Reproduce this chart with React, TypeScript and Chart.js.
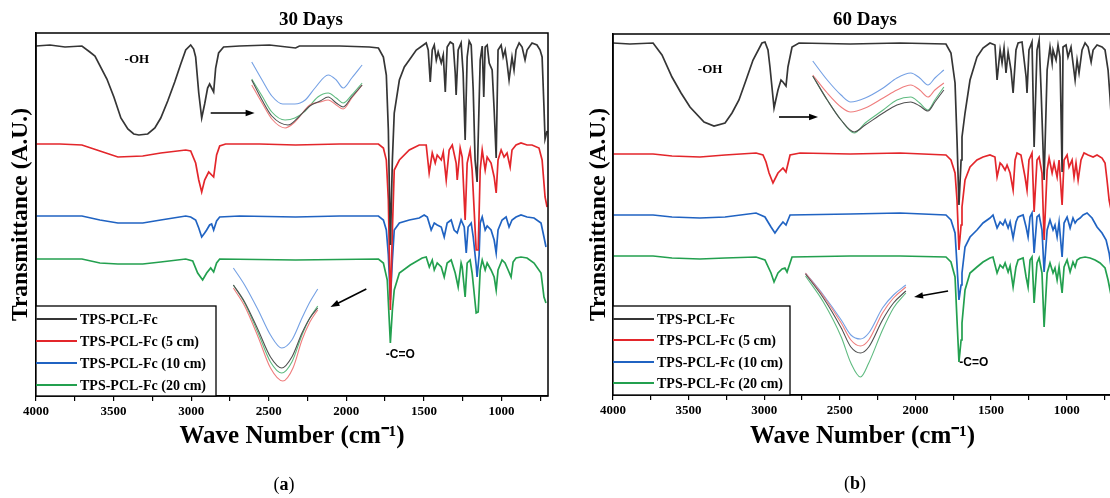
import React, { useEffect, useRef } from 'react';
import { Chart, registerables } from 'chart.js';

Chart.register(...registerables);

type Pair = [number, number];

const SERIES_LABELS = ['TPS-PCL-Fc', 'TPS-PCL-Fc (5 cm)', 'TPS-PCL-Fc (10 cm)', 'TPS-PCL-Fc (20 cm)'];
const LINE_COLORS = ['#353535', '#e3262b', '#2063c2', '#23a04f'];
const INSET_COLORS = ['#505050', '#ef7d7d', '#74a0e4', '#5fbb80'];

const X_TICK_VALUES = [4000, 3750, 3500, 3250, 3000, 2750, 2500, 2250, 2000, 1750, 1500, 1250, 1000, 750];
const X_TICK_LABELED = [4000, 3500, 3000, 2500, 2000, 1500, 1000];
const X_MIN = 700;
const X_MAX = 4000;

// ---------- 30 days (wavenumber, transmittance A.U.) ----------
const D30_TPS: Pair[] = [
  [4000, 350], [3910, 351], [3813, 349], [3704, 350], [3653, 344], [3620, 340], [3543, 317], [3498, 299], [3453, 278], [3408, 267], [3370, 262], [3337, 261], [3280, 262], [3234, 268], [3196, 278], [3151, 295], [3106, 314], [3067, 332], [3035, 346], [3003, 351], [2984, 347], [2971, 339], [2951, 303], [2932, 278], [2913, 292], [2894, 308], [2881, 312], [2868, 308], [2855, 304], [2842, 328], [2823, 343], [2791, 349], [2688, 350], [2495, 351], [2327, 348], [2302, 350], [2044, 350], [1851, 349], [1793, 348], [1761, 339], [1742, 321], [1729, 266], [1716, 151], [1703, 236], [1691, 283], [1658, 316], [1626, 329], [1594, 336], [1549, 346], [1485, 353],
  [1472, 346], [1459, 314], [1446, 346], [1433, 351], [1420, 336], [1408, 344], [1388, 333], [1375, 341], [1362, 304], [1350, 349], [1330, 354], [1311, 352], [1298, 323], [1292, 301], [1279, 346], [1260, 353], [1247, 323], [1234, 256], [1221, 339], [1208, 355], [1195, 351], [1182, 306], [1170, 236], [1157, 214], [1137, 336], [1124, 350], [1114, 299], [1105, 349], [1092, 351], [1079, 333], [1060, 326], [1047, 286], [1034, 238], [1022, 346], [1002, 351], [989, 339], [976, 346], [964, 333], [951, 316], [932, 339], [919, 326], [906, 346], [886, 353], [867, 349], [848, 336], [835, 346], [803, 353], [771, 351], [751, 346], [738, 339], [726, 289], [719, 257], [706, 265],
];
const D30_5CM: Pair[] = [
  [4000, 252], [3846, 252], [3704, 251], [3588, 245], [3472, 239], [3312, 240], [3196, 243], [3035, 246], [3003, 245], [2971, 233], [2951, 216], [2932, 204], [2913, 216], [2887, 224], [2855, 219], [2836, 241], [2816, 250], [2778, 252], [2559, 252], [2327, 251], [2044, 252], [1793, 252], [1761, 248], [1742, 236], [1729, 196], [1716, 86], [1703, 166], [1691, 226], [1658, 236], [1594, 246], [1530, 251], [1485, 251],
  [1466, 223], [1446, 243], [1427, 233], [1414, 241], [1388, 236], [1375, 244], [1356, 216], [1337, 246], [1317, 251], [1292, 233], [1285, 216], [1266, 248], [1253, 239], [1234, 176], [1221, 233], [1202, 246], [1189, 226], [1163, 146], [1150, 146], [1137, 226], [1124, 246], [1105, 226], [1092, 239], [1067, 233], [1047, 219], [1034, 203], [1022, 236], [1002, 246], [983, 239], [964, 243], [944, 229], [932, 246], [906, 251], [874, 253], [835, 251], [803, 251], [758, 248], [738, 236], [719, 199], [706, 189],
];
const D30_10CM: Pair[] = [
  [4000, 180], [3846, 180], [3704, 180], [3588, 176], [3472, 173], [3312, 173], [3196, 176], [3035, 180], [3003, 179], [2971, 176], [2951, 168], [2932, 159], [2913, 163], [2900, 166], [2881, 171], [2868, 172], [2855, 166], [2836, 175], [2816, 179], [2688, 180], [2327, 179], [2044, 180], [1793, 180], [1761, 176], [1742, 166], [1729, 141], [1716, 96], [1703, 136], [1691, 166], [1658, 173], [1594, 176], [1530, 178],
  [1498, 181], [1478, 179], [1453, 166], [1433, 173], [1414, 171], [1388, 169], [1369, 159], [1350, 173], [1324, 176], [1305, 166], [1285, 163], [1260, 176], [1240, 169], [1227, 143], [1215, 169], [1195, 173], [1182, 159], [1163, 131], [1157, 119], [1144, 141], [1137, 173], [1124, 179], [1105, 166], [1092, 170], [1067, 166], [1047, 156], [1034, 143], [1022, 166], [996, 176], [970, 179], [951, 169], [932, 176], [906, 179], [874, 181], [835, 179], [790, 178], [745, 173], [726, 159], [713, 149],
];
const D30_20CM: Pair[] = [
  [4000, 137], [3846, 137], [3704, 137], [3588, 133], [3472, 132], [3312, 132], [3196, 134], [3035, 137], [2990, 135], [2958, 123], [2926, 116], [2900, 123], [2874, 128], [2855, 124], [2836, 133], [2816, 137], [2327, 136], [1793, 137], [1761, 133], [1736, 116], [1716, 53], [1703, 86], [1691, 106], [1658, 123], [1588, 131], [1511, 138], [1485, 139],
  [1465, 129], [1446, 136], [1433, 126], [1414, 133], [1388, 129], [1369, 119], [1350, 133], [1324, 136], [1298, 123], [1279, 109], [1260, 133], [1253, 129], [1234, 99], [1221, 133], [1202, 136], [1189, 123], [1163, 83], [1150, 84], [1137, 126], [1124, 136], [1105, 126], [1092, 133], [1067, 126], [1047, 119], [1034, 106], [1022, 126], [996, 136], [977, 133], [957, 126], [938, 119], [925, 134], [906, 138], [874, 139], [835, 138], [790, 133], [745, 123], [726, 99], [713, 93],
];

// ---------- 60 days ----------
const D60_TPS: Pair[] = [
  [4000, 352], [3888, 351], [3735, 352], [3676, 340], [3610, 318], [3550, 302], [3491, 288], [3398, 273], [3332, 269], [3259, 272], [3213, 282], [3167, 295], [3120, 315], [3074, 335], [3015, 352], [2995, 353], [2975, 345], [2962, 328], [2935, 287], [2909, 305], [2889, 315], [2876, 313], [2856, 309], [2843, 328], [2816, 348], [2770, 352], [2432, 351], [2102, 352], [1798, 351], [1765, 342], [1738, 312], [1725, 255], [1712, 190], [1698, 235], [1692, 258], [1672, 282], [1639, 315], [1593, 338], [1553, 347], [1507, 352],
  [1474, 350], [1460, 315], [1440, 345], [1427, 332], [1414, 347], [1401, 322], [1387, 343], [1368, 325], [1354, 302], [1335, 345], [1321, 352], [1295, 353], [1268, 318], [1262, 302], [1249, 345], [1229, 353], [1215, 248], [1196, 345], [1182, 355], [1169, 305], [1149, 215], [1129, 325], [1110, 348], [1096, 332], [1090, 345], [1070, 335], [1057, 350], [1044, 338], [1030, 223], [1024, 348], [1004, 350], [991, 338], [971, 348], [958, 332], [944, 315], [931, 335], [918, 322], [898, 345], [878, 352], [858, 348], [838, 333], [825, 345], [799, 350], [766, 348], [746, 345], [726, 325], [713, 298], [700, 265],
];
const D60_5CM: Pair[] = [
  [4000, 241], [3735, 241], [3610, 239], [3425, 238], [3259, 240], [3054, 242], [3008, 240], [2988, 233], [2968, 222], [2942, 212], [2909, 222], [2876, 227], [2856, 223], [2829, 240], [2763, 242], [2432, 241], [2102, 242], [1798, 240], [1765, 235], [1738, 222], [1725, 195], [1712, 145], [1698, 170], [1692, 188], [1672, 215], [1639, 228], [1593, 235], [1553, 238], [1507, 240],
  [1474, 238], [1460, 218], [1440, 232], [1427, 230], [1407, 225], [1394, 230], [1374, 222], [1354, 205], [1341, 235], [1328, 242], [1302, 240], [1275, 218], [1262, 205], [1249, 235], [1229, 242], [1215, 183], [1196, 235], [1182, 238], [1163, 222], [1149, 155], [1129, 225], [1116, 237], [1096, 222], [1083, 232], [1063, 218], [1050, 235], [1030, 190], [1017, 235], [997, 240], [984, 228], [964, 235], [951, 218], [938, 232], [924, 215], [905, 235], [885, 242], [858, 240], [825, 238], [799, 240], [766, 237], [746, 232], [733, 215], [719, 195], [706, 185],
];
const D60_10CM: Pair[] = [
  [4000, 180], [3735, 180], [3610, 178], [3425, 177], [3259, 178], [3054, 182], [2995, 178], [2955, 168], [2929, 162], [2902, 168], [2876, 173], [2856, 170], [2829, 180], [2432, 181], [2102, 182], [1798, 180], [1765, 175], [1738, 162], [1725, 130], [1712, 95], [1698, 110], [1692, 122], [1672, 148], [1639, 158], [1593, 165], [1553, 172], [1507, 177], [1487, 180],
  [1460, 167], [1440, 173], [1421, 170], [1407, 175], [1387, 167], [1374, 173], [1354, 157], [1335, 173], [1321, 178], [1288, 180], [1268, 168], [1255, 158], [1242, 178], [1229, 182], [1215, 142], [1196, 178], [1182, 180], [1163, 165], [1149, 123], [1129, 165], [1110, 175], [1090, 165], [1077, 170], [1063, 158], [1050, 173], [1030, 138], [1017, 172], [997, 178], [977, 167], [958, 177], [944, 172], [931, 175], [911, 177], [891, 180], [865, 182], [832, 177], [799, 168], [766, 162], [739, 155], [719, 142], [706, 128],
];
const D60_20CM: Pair[] = [
  [4000, 139], [3735, 139], [3610, 137], [3425, 136], [3259, 137], [3054, 138], [2995, 135], [2955, 122], [2935, 113], [2909, 122], [2882, 126], [2863, 127], [2849, 123], [2816, 138], [2432, 139], [2102, 139], [1798, 138], [1765, 133], [1738, 118], [1725, 75], [1712, 33], [1698, 55], [1692, 72], [1672, 105], [1639, 122], [1593, 128], [1553, 133], [1507, 137], [1487, 138],
  [1460, 122], [1440, 130], [1421, 127], [1407, 132], [1387, 123], [1374, 129], [1354, 108], [1335, 128], [1321, 135], [1288, 137], [1268, 118], [1255, 108], [1242, 135], [1229, 138], [1215, 92], [1196, 132], [1182, 137], [1163, 122], [1149, 68], [1129, 122], [1110, 132], [1090, 122], [1077, 127], [1063, 115], [1050, 128], [1030, 102], [1017, 128], [997, 135], [977, 123], [958, 133], [944, 128], [931, 135], [911, 137], [878, 138], [845, 137], [812, 135], [779, 132], [746, 127], [726, 115], [713, 105], [700, 95],
];

// ---------- insets (zoomed regions) ----------
const D30_CH_TPS: Pair[] = [[3017, 55], [2999, 35], [2982, 19], [2954, 10], [2937, 17], [2916, 29], [2898, 34], [2884, 38], [2870, 32], [2858, 28], [2843, 38], [2825, 50]];
const D30_CH_5CM: Pair[] = [[3017, 50], [2999, 32], [2982, 16], [2959, 7], [2942, 13], [2916, 30], [2898, 33], [2884, 35], [2870, 30], [2858, 26], [2843, 37], [2825, 50]];
const D30_CH_10CM: Pair[] = [[3017, 73], [2999, 55], [2982, 39], [2963, 31], [2942, 31], [2924, 35], [2907, 47], [2884, 60], [2870, 55], [2858, 47], [2843, 57], [2825, 70]];
const D30_CH_20CM: Pair[] = [[3017, 56], [2999, 39], [2982, 23], [2959, 15], [2942, 17], [2924, 24], [2902, 38], [2884, 42], [2870, 37], [2858, 32], [2843, 40], [2825, 52]];

const D30_CO_TPS: Pair[] = [[1757, 100], [1747, 83], [1735, 55], [1724, 28], [1714, 17], [1705, 28], [1696, 52], [1689, 67], [1682, 77]];
const D30_CO_5CM: Pair[] = [[1757, 97], [1747, 79], [1735, 48], [1724, 17], [1713, 4], [1704, 17], [1696, 45], [1689, 63], [1682, 75]];
const D30_CO_10CM: Pair[] = [[1757, 117], [1747, 100], [1735, 75], [1724, 50], [1714, 37], [1705, 45], [1696, 67], [1689, 83], [1682, 96]];
const D30_CO_20CM: Pair[] = [[1757, 100], [1747, 82], [1735, 52], [1724, 23], [1714, 12], [1705, 23], [1696, 50], [1689, 67], [1682, 79]];

const D60_CH_TPS: Pair[] = [[3016, 64], [2995, 40], [2975, 20], [2956, 8], [2940, 15], [2914, 27], [2894, 35], [2874, 38], [2861, 34], [2849, 29], [2839, 38], [2826, 50]];
const D60_CH_5CM: Pair[] = [[3016, 65], [2995, 47], [2975, 33], [2961, 28], [2940, 32], [2914, 42], [2894, 50], [2874, 55], [2861, 50], [2849, 43], [2839, 50], [2826, 57]];
const D60_CH_10CM: Pair[] = [[3016, 79], [2995, 60], [2975, 45], [2961, 38], [2940, 42], [2914, 52], [2894, 62], [2874, 67], [2861, 62], [2849, 55], [2839, 62], [2826, 70]];
const D60_CH_20CM: Pair[] = [[3016, 64], [2995, 40], [2975, 20], [2956, 7], [2940, 17], [2914, 30], [2894, 40], [2874, 43], [2861, 37], [2849, 30], [2839, 40], [2826, 53]];

const D60_CO_TPS: Pair[] = [[1756, 111], [1743, 87], [1730, 57], [1723, 38], [1716, 32], [1710, 38], [1700, 65], [1692, 82], [1683, 94]];
const D60_CO_5CM: Pair[] = [[1756, 112], [1743, 89], [1730, 62], [1723, 45], [1716, 39], [1710, 45], [1700, 72], [1692, 87], [1683, 98]];
const D60_CO_10CM: Pair[] = [[1756, 112], [1743, 90], [1730, 65], [1723, 50], [1716, 46], [1710, 52], [1700, 77], [1692, 90], [1683, 100]];
const D60_CO_20CM: Pair[] = [[1756, 109], [1743, 83], [1730, 48], [1723, 22], [1716, 8], [1710, 22], [1700, 55], [1692, 77], [1683, 92]];

const SERIF = "'Liberation Serif', 'Times New Roman', serif";
const SANS = "'Liberation Sans', Arial, sans-serif";
const PAGE_W = 1110;
const PAGE_H = 498;

interface Arrow { from: Pair; to: Pair }
interface PanelCfg {
  key: string;
  canvasLeft: number;
  width: number;
  top: number;
  left: number;
  padRight: number;
  xAxisHeight: number;
  yMax: number;
  yTitlePad: number;
  title: string;
  titleX: number;
  titleY: number;
  sub: string;
  subX: number;
  subY: number;
  series: Pair[][];
  ohAt: Pair;
  coAt: Pair;
  arrows: Arrow[];
  legendTop: number;
  legendWidth: number;
  legendRows: number[];
}
interface InsetCfg {
  key: string;
  left: number;
  top: number;
  width: number;
  height: number;
  xRange: Pair;
  yMax: number;
  series: Pair[][];
}

const PANELS: PanelCfg[] = [
  {
    key: 'a', canvasLeft: 0, width: 560, top: 33, left: 36, padRight: 12, xAxisHeight: 102, yMax: 363, yTitlePad: 7,
    title: '30 Days', titleX: 311, titleY: 20, sub: 'a', subX: 284, subY: 485,
    series: [D30_TPS, D30_5CM, D30_10CM, D30_20CM],
    ohAt: [3350, 336], coAt: [1745, 41],
    arrows: [{ from: [2874, 283], to: [2591, 283] }, { from: [1871, 107], to: [2102, 89] }],
    legendTop: 306, legendWidth: 180, legendRows: [319, 341, 363, 385],
  },
  {
    key: 'b', canvasLeft: 560, width: 560, top: 34, left: 53, padRight: 8, xAxisHeight: 103, yMax: 361, yTitlePad: 25,
    title: '60 Days', titleX: 305, titleY: 20, sub: 'b', subX: 295, subY: 484,
    series: [D60_TPS, D60_5CM, D60_10CM, D60_20CM],
    ohAt: [3358, 325], coAt: [1710, 32],
    arrows: [{ from: [2902, 278], to: [2644, 278] }, { from: [1784, 104], to: [2009, 98] }],
    legendTop: 306, legendWidth: 177, legendRows: [319, 340, 362, 383],
  },
];

const INSETS: InsetCfg[] = [
  { key: 'a1', left: 250, top: 55, width: 115, height: 80, xRange: [2820, 3020], yMax: 80, series: [D30_CH_TPS, D30_CH_5CM, D30_CH_10CM, D30_CH_20CM] },
  { key: 'a2', left: 230, top: 262, width: 90, height: 123, xRange: [1680, 1760], yMax: 123, series: [D30_CO_TPS, D30_CO_5CM, D30_CO_10CM, D30_CO_20CM] },
  { key: 'b1', left: 810, top: 55, width: 138, height: 85, xRange: [2820, 3020], yMax: 85, series: [D60_CH_TPS, D60_CH_5CM, D60_CH_10CM, D60_CH_20CM] },
  { key: 'b2', left: 800, top: 265, width: 110, height: 120, xRange: [1680, 1760], yMax: 120, series: [D60_CO_TPS, D60_CO_5CM, D60_CO_10CM, D60_CO_20CM] },
];

function toPoints(arr: Pair[]) {
  return arr.map(([x, y]) => ({ x, y }));
}

function drawArrow(ctx: CanvasRenderingContext2D, x1: number, y1: number, x2: number, y2: number) {
  const ang = Math.atan2(y2 - y1, x2 - x1);
  const head = 9;
  const half = 3.2;
  ctx.strokeStyle = '#000';
  ctx.fillStyle = '#000';
  ctx.lineWidth = 1.6;
  ctx.beginPath();
  ctx.moveTo(x1, y1);
  ctx.lineTo(x2 - Math.cos(ang) * head * 0.8, y2 - Math.sin(ang) * head * 0.8);
  ctx.stroke();
  ctx.beginPath();
  ctx.moveTo(x2, y2);
  ctx.lineTo(x2 - Math.cos(ang) * head + Math.sin(ang) * half, y2 - Math.sin(ang) * head - Math.cos(ang) * half);
  ctx.lineTo(x2 - Math.cos(ang) * head - Math.sin(ang) * half, y2 - Math.sin(ang) * head + Math.cos(ang) * half);
  ctx.closePath();
  ctx.fill();
}

function makeDecor(cfg: PanelCfg) {
  return {
    id: 'decor_' + cfg.key,
    afterDraw(chart: any) {
      const { ctx, chartArea: a, scales } = chart;
      const xs = scales.x;
      const ys = scales.y;
      ctx.save();
      // frame
      ctx.strokeStyle = '#000';
      ctx.lineWidth = 1.5;
      ctx.strokeRect(a.left, a.top, a.right - a.left, a.bottom - a.top);

      // title
      ctx.fillStyle = '#000';
      ctx.textAlign = 'center';
      ctx.textBaseline = 'middle';
      ctx.font = `bold 19px ${SERIF}`;
      ctx.fillText(cfg.title, cfg.titleX, cfg.titleY);

      // sub-figure label "(a)"
      ctx.font = `18px ${SERIF}`;
      const wP = ctx.measureText('(').width;
      const wQ = ctx.measureText(')').width;
      ctx.font = `bold 18px ${SERIF}`;
      const wA = ctx.measureText(cfg.sub).width;
      const total = wP + wA + wQ;
      let sx = cfg.subX - total / 2;
      ctx.textAlign = 'left';
      ctx.font = `18px ${SERIF}`;
      ctx.fillText('(', sx, cfg.subY);
      sx += wP;
      ctx.font = `bold 18px ${SERIF}`;
      ctx.fillText(cfg.sub, sx, cfg.subY);
      sx += wA;
      ctx.font = `18px ${SERIF}`;
      ctx.fillText(')', sx, cfg.subY);

      // peak annotations
      ctx.textAlign = 'center';
      ctx.font = `bold 13px ${SERIF}`;
      ctx.fillText('-OH', xs.getPixelForValue(cfg.ohAt[0]), ys.getPixelForValue(cfg.ohAt[1]));
      ctx.textAlign = 'left';
      ctx.font = `bold 12px ${SANS}`;
      ctx.fillText('-C=O', xs.getPixelForValue(cfg.coAt[0]), ys.getPixelForValue(cfg.coAt[1]));

      // arrows
      cfg.arrows.forEach((ar) => {
        drawArrow(
          ctx,
          xs.getPixelForValue(ar.from[0]), ys.getPixelForValue(ar.from[1]),
          xs.getPixelForValue(ar.to[0]), ys.getPixelForValue(ar.to[1]),
        );
      });

      // legend
      const lx = a.left;
      const lw = cfg.legendWidth;
      const lt = cfg.legendTop;
      ctx.fillStyle = '#fff';
      ctx.fillRect(lx, lt, lw, a.bottom - lt);
      ctx.strokeStyle = '#000';
      ctx.lineWidth = 1.3;
      ctx.strokeRect(lx, lt, lw, a.bottom - lt);
      ctx.font = `bold 14px ${SERIF}`;
      ctx.textBaseline = 'middle';
      chart.data.datasets.forEach((ds: any, i: number) => {
        const y = cfg.legendRows[i];
        ctx.strokeStyle = ds.borderColor;
        ctx.lineWidth = 2;
        ctx.beginPath();
        ctx.moveTo(lx, y);
        ctx.lineTo(lx + 41, y);
        ctx.stroke();
        ctx.fillStyle = '#000';
        ctx.textAlign = 'left';
        ctx.fillText(ds.label, lx + 44, y + 1);
      });
      ctx.restore();
    },
  };
}

function MainPanel({ cfg }: { cfg: PanelCfg }) {
  const ref = useRef<HTMLCanvasElement>(null);
  useEffect(() => {
    if (!ref.current) return;
    const chart = new Chart(ref.current, {
      type: 'line',
      data: {
        datasets: cfg.series.map((s, i) => ({
          label: SERIES_LABELS[i],
          data: toPoints(s),
          borderColor: LINE_COLORS[i],
          backgroundColor: LINE_COLORS[i],
          borderWidth: 1.7,
          pointRadius: 0,
          tension: 0,
          fill: false,
        })),
      },
      options: {
        animation: false,
        responsive: false,
        devicePixelRatio: 1,
        events: [],
        layout: { padding: { left: 0, top: cfg.top, right: cfg.padRight, bottom: 0 } },
        plugins: { legend: { display: false }, tooltip: { enabled: false }, title: { display: false } },
        scales: {
          x: {
            type: 'linear',
            min: X_MIN,
            max: X_MAX,
            reverse: true,
            afterBuildTicks: (s: any) => {
              s.ticks = X_TICK_VALUES.map((v) => ({ value: v }));
            },
            afterFit: (s: any) => {
              s.height = cfg.xAxisHeight;
            },
            ticks: {
              autoSkip: false,
              maxRotation: 0,
              padding: 3,
              color: '#000',
              font: { family: SERIF, size: 13, weight: 'bold' },
              callback: (v: any) => (X_TICK_LABELED.includes(Number(v)) ? String(v) : ''),
            },
            grid: { drawOnChartArea: false, drawTicks: true, tickLength: 5, color: '#000', lineWidth: 1.2 },
            border: { display: true, color: '#000', width: 1.5 },
            title: {
              display: true,
              text: 'Wave Number (cm\u207B\u00B9)',
              color: '#000',
              font: { family: SERIF, size: 25, weight: 'bold' },
              padding: { top: 0, bottom: 46 },
            },
          },
          y: {
            type: 'linear',
            min: 0,
            max: cfg.yMax,
            afterFit: (s: any) => {
              s.width = cfg.left;
            },
            ticks: { display: false },
            grid: { display: false },
            border: { display: true, color: '#000', width: 1.5 },
            title: {
              display: true,
              text: 'Transmittance (A.U.)',
              color: '#000',
              font: { family: SERIF, size: 23.5, weight: 'bold' },
              padding: { top: cfg.yTitlePad, bottom: 0 },
            },
          },
        },
      } as any,
      plugins: [makeDecor(cfg)],
    });
    return () => chart.destroy();
  }, [cfg]);
  return (
    <canvas
      ref={ref}
      width={cfg.width}
      height={PAGE_H}
      style={{ position: 'absolute', left: cfg.canvasLeft, top: 0, width: cfg.width, height: PAGE_H }}
    />
  );
}

function InsetPanel({ cfg }: { cfg: InsetCfg }) {
  const ref = useRef<HTMLCanvasElement>(null);
  useEffect(() => {
    if (!ref.current) return;
    const chart = new Chart(ref.current, {
      type: 'line',
      data: {
        datasets: cfg.series.map((s, i) => ({
          label: SERIES_LABELS[i],
          data: toPoints(s),
          borderColor: INSET_COLORS[i],
          borderWidth: 1.1,
          pointRadius: 0,
          cubicInterpolationMode: 'monotone',
          fill: false,
          clip: false,
        })),
      },
      options: {
        animation: false,
        responsive: false,
        devicePixelRatio: 1,
        events: [],
        layout: { padding: 0 },
        plugins: { legend: { display: false }, tooltip: { enabled: false } },
        scales: {
          x: { type: 'linear', display: false, reverse: true, min: cfg.xRange[0], max: cfg.xRange[1] },
          y: { type: 'linear', display: false, min: 0, max: cfg.yMax },
        },
      } as any,
    });
    return () => chart.destroy();
  }, [cfg]);
  return (
    <canvas
      ref={ref}
      width={cfg.width}
      height={cfg.height}
      style={{ position: 'absolute', left: cfg.left, top: cfg.top, width: cfg.width, height: cfg.height }}
    />
  );
}

export default function App() {
  return (
    <div
      style={{
        position: 'fixed',
        left: 0,
        top: 0,
        width: PAGE_W,
        height: PAGE_H,
        overflow: 'hidden',
        background: '#fff',
      }}
    >
      {PANELS.map((p) => (
        <MainPanel key={p.key} cfg={p} />
      ))}
      {INSETS.map((c) => (
        <InsetPanel key={c.key} cfg={c} />
      ))}
    </div>
  );
}
